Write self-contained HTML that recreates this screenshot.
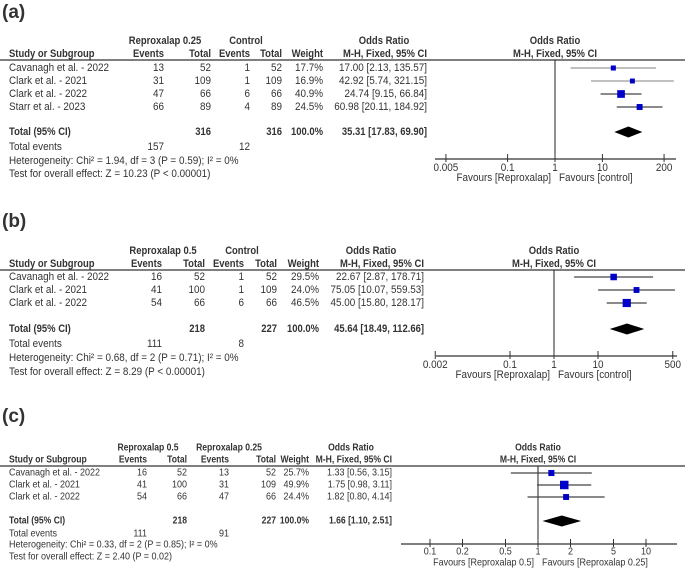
<!DOCTYPE html>
<html><head><meta charset="utf-8"><style>
body{margin:0;background:#fff;width:685px;height:568px;overflow:hidden}
svg{display:block}
text{font-family:"Liberation Sans",sans-serif;fill:#333}
</style></head><body>
<svg id="chart" width="685" height="568" viewBox="0 0 685 568" xmlns="http://www.w3.org/2000/svg"></svg>
<script>
// Panel (a)
const aStudies=["Cavanagh et al. - 2022","Clark et al. - 2021","Clark et al. - 2022","Starr et al. - 2023"];
const aEvents=[13,31,47,66];
const aTotals=[52,109,66,89];
const aCtrlEvents=[1,1,6,4];
const aCtrlTotals=[52,109,66,89];
const aWeights=[17.7,16.9,40.9,24.5];
const aOR=[17.00,42.92,24.74,60.98];
const aLow=[2.13,5.74,9.15,20.11];
const aHigh=[135.57,321.15,66.84,184.92];
const aTotal=[35.31,17.83,69.90];
const aTicks=[0.005,0.1,1,10,200];
// Panel (b)
const bStudies=["Cavanagh et al. - 2022","Clark et al. - 2021","Clark et al. - 2022"];
const bEvents=[16,41,54];
const bTotals=[52,100,66];
const bCtrlEvents=[1,1,6];
const bCtrlTotals=[52,109,66];
const bWeights=[29.5,24.0,46.5];
const bOR=[22.67,75.05,45.00];
const bLow=[2.87,10.07,15.80];
const bHigh=[178.71,559.53,128.17];
const bTotal=[45.64,18.49,112.66];
const bTicks=[0.002,0.1,1,10,500];
// Panel (c)
const cStudies=["Cavanagh et al. - 2022","Clark et al. - 2021","Clark et al. - 2022"];
const cEvents=[16,41,54];
const cTotals=[52,100,66];
const cCtrlEvents=[13,31,47];
const cCtrlTotals=[52,109,66];
const cWeights=[25.7,49.9,24.4];
const cOR=[1.33,1.75,1.82];
const cLow=[0.56,0.98,0.80];
const cHigh=[3.15,3.11,4.14];
const cTotal=[1.66,1.10,2.51];
const cTicks=[0.1,0.2,0.5,1,2,5,10];

const NS="http://www.w3.org/2000/svg";
const svg=document.getElementById('chart');
function mk(tag,attrs,parent){const e=document.createElementNS(NS,tag);for(const k in attrs)e.setAttribute(k,attrs[k]);(parent||svg).appendChild(e);return e;}
function txt(s,x,y,anchor,size,bold,parent,name){
  const sx=bold?0.86:0.9;
  const t=mk('text',{x:0,y:0,transform:'translate('+x+','+y+') scale('+sx+',1)','text-anchor':anchor,'font-size':size,'dominant-baseline':'middle','font-weight':bold?'bold':'normal'},parent);
  t.textContent=s;
  
  
  return t;}
function f2(v){return v.toFixed(2);}

function panel(id,L,d){
  const g=mk('g',{});
  
  
  const fs=L.fs;
  const lab=mk('text',{x:2,y:L.label,'font-size':19,'font-weight':'bold','dominant-baseline':'middle'},g);lab.textContent='('+id+')';
  
  
  txt(d.g1,L.g1c,L.h1,'middle',fs,true,g,'group1-header');
  txt(d.g2,L.g2c,L.h1,'middle',fs,true,g,'group2-header');
  txt('Odds Ratio',L.orc,L.h1,'middle',fs,true,g,'or-column-header');
  txt('Odds Ratio',L.cx,L.h1,'middle',fs,true,g,'plot-header');
  txt('Study or Subgroup',9,L.h2,'start',fs,true,g,'study-header');
  txt('Events',L.c[0],L.h2,'end',fs,true,g,'events-header');
  txt('Total',L.c[1],L.h2,'end',fs,true,g,'total-header');
  txt('Events',L.c[2],L.h2,'end',fs,true,g,'events-header');
  txt('Total',L.c[3],L.h2,'end',fs,true,g,'total-header');
  txt('Weight',L.c[4],L.h2,'end',fs,true,g,'weight-header');
  txt('M-H, Fixed, 95% CI',L.c[5],L.h2,'end',fs,true,g,'or-method-header');
  txt('M-H, Fixed, 95% CI',L.cx,L.h2,'middle',fs,true,g,'plot-method-header');
  const hl=mk('line',{x1:0,x2:685,y1:L.line,y2:L.line,stroke:'#333','stroke-width':1.3},g);
  
  
  const X=v=>L.cx+Math.log10(v)*L.dec;
  const xmin=L.ax0,xmax=L.ax1;
  const vl=mk('line',{x1:L.cx,x2:L.cx,y1:L.line,y2:L.axis,stroke:'#222','stroke-width':1},g);
  
  
  for(let i=0;i<d.studies.length;i++){
    const y=L.rows[i];
    txt(d.studies[i],9,y,'start',fs,false,g,'study-name');
    txt(String(d.ev[i]),L.c[0],y,'end',fs,false,g,'events-value');
    txt(String(d.tot[i]),L.c[1],y,'end',fs,false,g,'total-value');
    txt(String(d.cev[i]),L.c[2],y,'end',fs,false,g,'events-value');
    txt(String(d.ctot[i]),L.c[3],y,'end',fs,false,g,'total-value');
    txt(d.w[i].toFixed(1)+'%',L.c[4],y,'end',fs,false,g,'weight-value');
    txt(f2(d.or[i])+' ['+f2(d.lo[i])+', '+f2(d.hi[i])+']',L.c[5],y,'end',fs,false,g,'or-ci-value');
    const x1=Math.max(xmin,X(d.lo[i])),x2=Math.min(xmax,X(d.hi[i]));
    const ci=mk('line',{x1:x1,x2:x2,y1:y,y2:y,stroke:(L.grey&&L.grey[i])?'#9a9a9a':'#444','stroke-width':1.2},g);
    
    
    const s=Math.sqrt(d.w[i])*1.2;
    const sq=mk('rect',{x:X(d.or[i])-s/2,y:y-s/2,width:s,height:s,fill:'#0000c8'},g);
    
    
  }
  const ty=L.total;
  txt('Total (95% CI)',9,ty,'start',fs,true,g,'total-label');
  txt(String(d.tot.reduce((a,b)=>a+b,0)),L.c[1],ty,'end',fs,true,g,'total-n');
  txt(String(d.ctot.reduce((a,b)=>a+b,0)),L.c[3],ty,'end',fs,true,g,'total-n');
  txt('100.0%',L.c[4],ty,'end',fs,true,g,'total-weight');
  txt(f2(d.total[0])+' ['+f2(d.total[1])+', '+f2(d.total[2])+']',L.c[5],ty,'end',fs,true,g,'total-or-ci');
  const dm=mk('polygon',{points:[X(d.total[1])+','+ty,X(d.total[0])+','+(ty-5.5),X(d.total[2])+','+ty,X(d.total[0])+','+(ty+5.5)].join(' '),fill:'#000'},g);
  
  
  txt('Total events',9,L.te,'start',fs,false,g,'total-events-label');
  txt(String(d.ev.reduce((a,b)=>a+b,0)),L.c[0],L.te,'end',fs,false,g,'total-events-value');
  txt(String(d.cev.reduce((a,b)=>a+b,0)),L.c[2],L.te,'end',fs,false,g,'total-events-value');
  txt(d.het,9,L.het,'start',fs,false,g,'heterogeneity-text');
  txt(d.test,9,L.test,'start',fs,false,g,'overall-effect-text');
  const ax=mk('line',{x1:xmin,x2:xmax,y1:L.axis,y2:L.axis,stroke:'#333','stroke-width':1.2},g);
  
  
  d.ticks.forEach(t=>{
    const tk=mk('line',{x1:X(t),x2:X(t),y1:L.axis-5,y2:L.axis+3,stroke:'#333','stroke-width':1},g);
    
    
    txt(String(t),X(t),L.tl,'middle',fs,false,g,'x-tick-label');
  });
  txt(d.fl,L.cx-4,L.fav,'end',fs,false,g,'favours-left-label');
  txt(d.fr,L.cx+4,L.fav,'start',fs,false,g,'favours-right-label');
}

panel('a',{fs:11,label:13,h1:41,h2:54,line:60,rows:[68,81,94,107],total:132,te:147,het:161,test:174,axis:159,tl:168,fav:178,
  c:[164,211,250,282,323,427],g1c:165,g2c:246,orc:384,cx:555,dec:47.4,ax0:435,ax1:676,grey:[1,1,0,0]},
 {studies:aStudies,ev:aEvents,tot:aTotals,cev:aCtrlEvents,ctot:aCtrlTotals,w:aWeights,or:aOR,lo:aLow,hi:aHigh,total:aTotal,ticks:aTicks,
  g1:'Reproxalap 0.25',g2:'Control',het:'Heterogeneity: Chi² = 1.94, df = 3 (P = 0.59); I² = 0%',test:'Test for overall effect: Z = 10.23 (P < 0.00001)',fl:'Favours [Reproxalap]',fr:'Favours [control]'});

panel('b',{fs:11,label:222,h1:251,h2:264,line:270,rows:[277,290,303],total:329,te:344,het:358,test:372,axis:356,tl:365,fav:375,
  c:[162,205,244,277,319,424],g1c:163,g2c:242,orc:371,cx:554,dec:44,ax0:436,ax1:677},
 {studies:bStudies,ev:bEvents,tot:bTotals,cev:bCtrlEvents,ctot:bCtrlTotals,w:bWeights,or:bOR,lo:bLow,hi:bHigh,total:bTotal,ticks:bTicks,
  g1:'Reproxalap 0.5',g2:'Control',het:'Heterogeneity: Chi² = 0.68, df = 2 (P = 0.71); I² = 0%',test:'Test for overall effect: Z = 8.29 (P < 0.00001)',fl:'Favours [Reproxalap]',fr:'Favours [control]'});

panel('c',{fs:10,label:417,h1:448,h2:460,line:466,rows:[473,485,497],total:521,te:534,het:545,test:557,axis:544,tl:552,fav:563,
  c:[147,187,229,276,309,392],g1c:148,g2c:229,orc:351,cx:538,dec:108,ax0:401,ax1:677},
 {studies:cStudies,ev:cEvents,tot:cTotals,cev:cCtrlEvents,ctot:cCtrlTotals,w:cWeights,or:cOR,lo:cLow,hi:cHigh,total:cTotal,ticks:cTicks,
  g1:'Reproxalap 0.5',g2:'Reproxalap 0.25',het:'Heterogeneity: Chi² = 0.33, df = 2 (P = 0.85); I² = 0%',test:'Test for overall effect: Z = 2.40 (P = 0.02)',fl:'Favours [Reproxalap 0.5]',fr:'Favours [Reproxalap 0.25]'});
</script>
</body></html>
